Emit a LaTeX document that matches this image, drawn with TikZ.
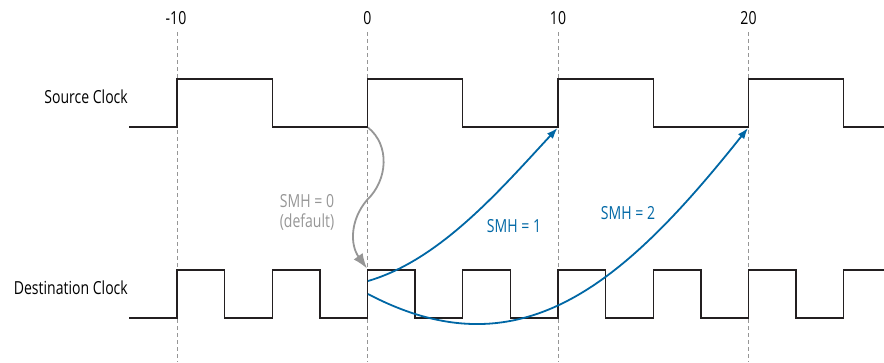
\documentclass[tikz,border=0pt]{standalone}
\usepackage{fontspec}
\setmainfont{Open Sans}[FakeStretch=0.78]
\usetikzlibrary{arrows.meta}
\definecolor{smhblue}{RGB}{0,103,165}
\definecolor{smhgray}{RGB}{150,150,150}
\definecolor{wavecol}{RGB}{35,31,32}
\tikzset{
  wavestyle/.style={draw=wavecol, line width=1.4pt, line join=miter},
  gridline/.style={draw=smhgray, line width=0.9pt, dash pattern=on 4pt off 3pt},
  ticklbl/.style={font=\fontsize{18}{20}\selectfont, text=black, inner sep=0pt},
  siglbl/.style={font=\fontsize{18}{20}\selectfont, anchor=east, inner sep=0pt},
  bluearrow/.style={draw=smhblue, line width=1.8pt, -{Latex[length=11pt,width=8pt]}},
  grayarrow/.style={draw=smhgray, line width=1.8pt, -{Latex[length=15pt,width=11pt]}},
  bluelbl/.style={font=\fontsize{18}{20}\selectfont, text=smhblue, inner sep=0pt},
  graylbl/.style={font=\fontsize{18}{20}\selectfont, text=smhgray, inner sep=0pt},
}
\begin{document}
\begin{tikzpicture}[x=1pt,y=-1pt]
\useasboundingbox (0,0) rectangle (884,362);
% tick labels
\node[ticklbl] (tm10) at (176,18) {-10};
\node[ticklbl] (t0) at (367.5,18) {0};
\node[ticklbl] (t10) at (558,18) {10};
\node[ticklbl] (t20) at (748.5,18) {20};
% dashed time lines
\foreach \x in {177,367.5,558,748.5}
  \draw[gridline] (\x,32) -- (\x,362);
% signal labels
\node[siglbl] (src) at (128,97) {Source Clock};
\node[siglbl] (dst) at (128,288) {Destination Clock};
% source clock
\draw[wavestyle] (129,127) -- (177,127) -- (177,79) -- (272.25,79) -- (272.25,127)
  -- (367.5,127) -- (367.5,79) -- (462.75,79) -- (462.75,127)
  -- (558,127) -- (558,79) -- (653.25,79) -- (653.25,127)
  -- (748.5,127) -- (748.5,79) -- (843.75,79) -- (843.75,127) -- (884,127);
% destination clock
\draw[wavestyle] (129,318) -- (177,318) -- (177,270) -- (224.6,270) -- (224.6,318)
  -- (272.25,318) -- (272.25,270) -- (319.9,270) -- (319.9,318)
  -- (367.5,318) -- (367.5,270) -- (415.1,270) -- (415.1,318)
  -- (462.75,318) -- (462.75,270) -- (510.4,270) -- (510.4,318)
  -- (558,318) -- (558,270) -- (605.6,270) -- (605.6,318)
  -- (653.25,318) -- (653.25,270) -- (700.9,270) -- (700.9,318)
  -- (748.5,318) -- (748.5,270) -- (796.1,270) -- (796.1,318)
  -- (843.75,318) -- (843.75,270) -- (884,270);
% arrow end points
\coordinate (s0) at (368,127.5);
\coordinate (d0) at (367,268.5);
\coordinate (d1) at (368,281);
\coordinate (d2) at (368,294);
\coordinate (s10) at (557.5,128);
\coordinate (s20) at (748,128);
\coordinate (mid0) at (367,200);
% gray SMH=0 arrow
\draw[grayarrow] (s0) .. controls (390,145) and (388,180) .. (mid0)
  .. controls (350,220) and (350,245) .. (d0);
% blue arrows
\draw[bluearrow] (d1) .. controls (440,260) and (500,190) .. (s10);
\draw[bluearrow] (d2) .. controls (520,374) and (623,285) .. (s20);
% labels
\node[graylbl] (l0a) at (307,201) {SMH = 0};
\node[graylbl] (l0b) at (307,222) {(default)};
\node[bluelbl] (l1) at (514,226) {SMH = 1};
\node[bluelbl] (l2) at (628,213) {SMH = 2};
\end{tikzpicture}
\end{document}
